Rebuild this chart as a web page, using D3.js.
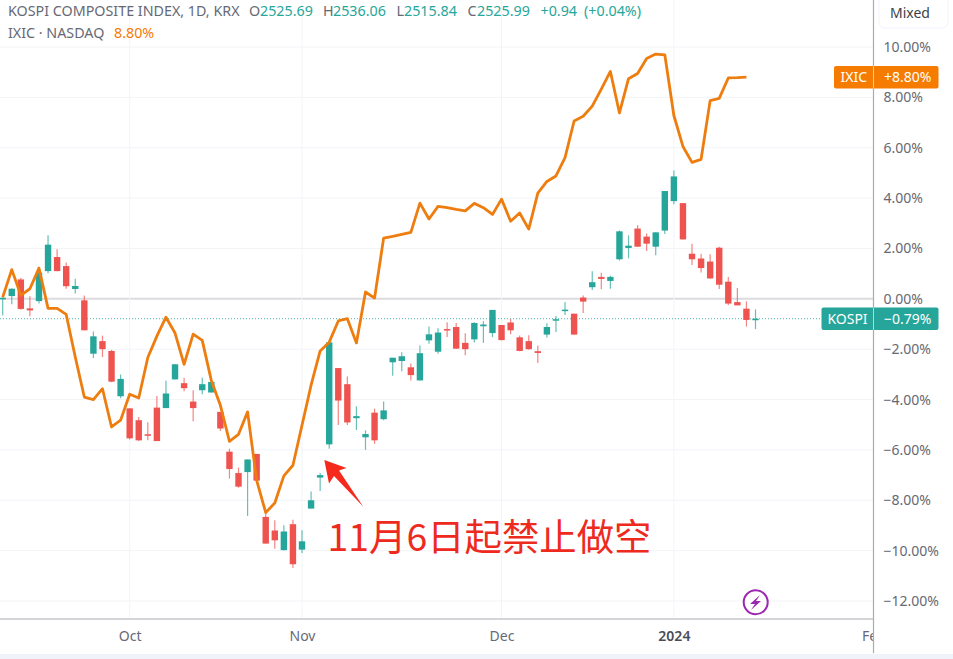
<!DOCTYPE html>
<html lang="en">
<head>
<meta charset="UTF-8">
<title>KOSPI vs IXIC</title>
<script src="https://d3js.org/d3.v7.min.js"></script>
<style>
    body { margin: 0; background: #fff; overflow: hidden; }
    svg { display: block; font-family: "Noto Sans", Arial, sans-serif; }
    .axis text { fill: #666974; font-size: 14px; font-family: "Noto Sans", Arial, sans-serif; }
    .axis path, .axis line { display: none; }
</style>
</head>
<body>
<svg id="chart" width="953" height="659"></svg>
<script>
// KOSPI candles, % change from the comparison start
const opens = [-0.02,0.11,0.77,-0.38,-0.09,1.10,1.66,1.30,0.39,-0.06,-2.18,-1.68,-2.07,-3.87,-4.35,-4.82,-5.38,-4.32,-4.34,-3.20,-3.35,-4.08,-3.63,-3.72,-4.49,-6.07,-6.92,-6.88,-6.16,-8.66,-9.20,-9.98,-8.95,-9.96,-8.33,-7.10,-5.78,-2.75,-3.39,-4.74,-5.50,-4.52,-4.78,-2.52,-2.47,-2.72,-3.24,-1.65,-2.10,-1.20,-1.12,-1.75,-1.61,-1.09,-1.36,-1.04,-0.94,-1.53,-1.68,-2.08,-1.42,-0.85,-0.47,-0.59,0.05,0.46,0.87,0.71,1.57,2.02,2.79,2.47,2.07,2.71,3.88,3.80,1.79,1.60,1.48,2.03,0.68,-0.13,-0.39,-0.81];
const highs = [0.06,0.42,0.84,0.10,1.22,2.52,1.97,1.44,0.80,0.13,-1.30,-1.46,-2.03,-3.01,-4.35,-4.69,-4.90,-3.86,-3.25,-2.60,-3.13,-3.63,-3.13,-3.30,-4.49,-5.95,-6.70,-6.38,-6.16,-8.50,-8.79,-8.99,-8.77,-9.19,-7.65,-6.92,-1.73,-2.75,-3.08,-4.27,-5.22,-4.36,-4.08,-2.34,-2.12,-2.57,-1.85,-1.10,-1.17,-0.93,-0.96,-1.37,-0.93,-0.89,-0.44,-1.04,-0.80,-1.46,-1.45,-1.85,-0.97,-0.68,-0.13,-0.59,0.13,1.09,1.04,0.92,2.71,2.52,2.93,2.59,2.64,4.28,5.10,3.80,2.19,1.79,1.77,2.07,0.87,0.43,-0.10,-0.42];
const lows = [-0.66,-0.22,-0.43,-0.69,-0.19,1.02,1.09,0.40,0.21,-1.25,-2.35,-2.31,-3.31,-3.95,-5.59,-5.65,-5.62,-5.65,-4.34,-3.20,-3.67,-4.86,-3.79,-3.72,-5.25,-7.14,-7.50,-8.62,-7.22,-9.72,-9.93,-9.98,-10.69,-10.09,-8.33,-7.63,-5.95,-5.01,-5.01,-5.21,-6.00,-5.76,-4.82,-3.06,-2.88,-3.24,-3.24,-1.78,-2.18,-1.52,-1.98,-2.24,-1.73,-1.75,-1.52,-1.65,-1.41,-2.08,-2.02,-2.55,-1.54,-1.32,-0.64,-1.42,-0.56,0.35,0.38,0.40,1.52,1.61,2.07,1.90,1.73,2.57,3.76,2.36,1.34,1.05,0.80,0.39,-0.25,-0.26,-1.10,-1.20];
const closes = [0.04,0.40,-0.40,-0.46,1.04,2.15,1.10,0.50,0.51,-1.25,-1.49,-2.00,-3.29,-3.18,-5.54,-5.62,-5.43,-5.65,-3.76,-2.60,-3.55,-4.34,-3.39,-3.30,-5.15,-6.76,-7.46,-6.38,-7.22,-9.72,-9.59,-9.24,-10.54,-9.63,-8.00,-7.00,-1.73,-4.04,-4.91,-4.66,-5.37,-5.62,-4.43,-2.34,-2.28,-3.03,-2.16,-1.41,-1.34,-1.25,-1.98,-2.00,-0.96,-1.02,-0.44,-1.64,-1.25,-2.07,-2.00,-2.15,-1.12,-0.81,-0.43,-1.42,-0.11,0.66,0.79,0.87,2.68,2.11,2.07,2.19,2.64,4.28,4.86,2.36,1.57,1.22,0.81,0.56,-0.19,-0.26,-0.84,-0.79];

// IXIC comparison line, % change
const ixic = [0.06,1.16,0.14,0.40,1.22,-0.38,-0.38,-0.62,-2.31,-3.90,-4.00,-3.57,-5.09,-4.82,-3.79,-3.94,-2.33,-1.48,-0.73,-1.36,-2.60,-1.40,-1.65,-3.24,-4.23,-5.66,-5.38,-4.49,-7.21,-8.49,-8.11,-7.03,-6.61,-5.02,-3.43,-2.07,-1.72,-0.88,-0.79,-1.75,0.27,0.03,2.41,2.48,2.56,2.64,3.80,3.17,3.67,3.62,3.55,3.49,3.79,3.62,3.35,3.96,3.08,3.41,2.77,4.20,4.66,4.88,5.61,7.06,7.25,7.65,8.33,9.03,7.38,8.74,8.95,9.54,9.72,9.69,7.28,6.05,5.42,5.54,7.87,7.96,8.77,8.78,8.80];

const yTicks = [10,8,6,4,2,0,-2,-4,-6,-8,-10,-12];
const xTickBars = [14,33,55,74,96];
const xTickLabels = ["Oct","Nov","Dec","2024","Feb"];
const lastKospi = -0.79;
const lastIxic = 8.80;

const UP = "#26a69a", DOWN = "#ef5350", ORANGE = "#f57c00", GREY = "#666974";
const plotRight = 873.5, plotBottom = 619;

const x = d3.scaleLinear().domain([0, 83]).range([2.7, 755.5]);
const y = d3.scaleLinear().domain([-12, 10]).range([601, 47]);

const svg = d3.select("#chart");
svg.append("defs").append("clipPath").attr("id", "plot")
    .append("rect").attr("width", plotRight).attr("height", plotBottom);
svg.append("defs").append("clipPath").attr("id", "xlabels")
    .append("rect").attr("width", plotRight).attr("height", 34);

const plot = svg.append("g").attr("clip-path", "url(#plot)");

// grid
plot.append("g").selectAll("line").data(yTicks).join("line")
    .attr("x1", 0).attr("x2", plotRight)
    .attr("y1", d => y(d)).attr("y2", d => y(d))
    .attr("stroke", d => d === 0 ? "#dcdce0" : "#f2f4f8")
    .attr("stroke-width", d => d === 0 ? 2 : 1);
plot.append("g").selectAll("line").data(xTickBars).join("line")
    .attr("x1", d => x(d)).attr("x2", d => x(d))
    .attr("y1", 0).attr("y2", plotBottom)
    .attr("stroke", "#f2f4f8");

// last price line
plot.append("line")
    .attr("x1", 0).attr("x2", plotRight)
    .attr("y1", y(lastKospi)).attr("y2", y(lastKospi))
    .attr("stroke", UP).attr("stroke-dasharray", "1,2").attr("opacity", 0.8);

// candles
const candles = plot.append("g").selectAll("g").data(opens.map((o, i) => i)).join("g");
const colour = i => closes[i] >= opens[i] ? UP : DOWN;
candles.append("line")
    .attr("x1", i => x(i)).attr("x2", i => x(i))
    .attr("y1", i => y(highs[i])).attr("y2", i => y(lows[i]))
    .attr("stroke", colour).attr("stroke-width", 1.2).attr("opacity", 0.7);
candles.append("rect")
    .attr("x", i => x(i) - 3.2).attr("width", 6.4)
    .attr("y", i => y(Math.max(opens[i], closes[i])))
    .attr("height", i => Math.max(1.5, Math.abs(y(opens[i]) - y(closes[i]))))
    .attr("fill", colour);

// comparison line
plot.append("path")
    .attr("d", d3.line().x((d, i) => x(i)).y(d => y(d))(ixic))
    .attr("fill", "none").attr("stroke", "#ee7d0f").attr("stroke-width", 2.8)
    .attr("stroke-linejoin", "round");

// axes
svg.append("g").attr("class", "axis").attr("transform", `translate(${plotRight},0)`)
    .call(d3.axisRight(y).tickValues(yTicks).tickSize(0).tickPadding(10)
        .tickFormat(d => (d < 0 ? "\u2212" : "") + Math.abs(d).toFixed(2) + "%"));
const xAxis = svg.append("g").attr("class", "axis").attr("clip-path", "url(#xlabels)")
    .attr("transform", `translate(0,${plotBottom})`)
    .call(d3.axisBottom(x).tickValues(xTickBars).tickSize(0).tickPadding(12)
        .tickFormat((d, i) => xTickLabels[i]));
xAxis.selectAll("text").filter(d => d === 74)
    .style("font-weight", 600).style("fill", "#4a4d57");

svg.append("line").attr("x1", 0).attr("x2", plotRight).attr("y1", plotBottom).attr("y2", plotBottom)
    .attr("stroke", "#a9abb2").attr("stroke-width", 1.2);
svg.append("line").attr("x1", plotRight).attr("x2", plotRight).attr("y1", 0).attr("y2", 653)
    .attr("stroke", "#a9abb2").attr("stroke-width", 1.2);
svg.append("rect").attr("y", 654).attr("width", 953).attr("height", 5).attr("fill", "#f0f3fa");

// scale mode button
svg.append("rect").attr("x", 879).attr("y", -6).attr("width", 69).attr("height", 34).attr("rx", 6)
    .attr("fill", "#fff").attr("stroke", "#f0f3fa");
svg.append("text").attr("x", 910).attr("y", 17.5).attr("text-anchor", "middle")
    .attr("font-size", 14).attr("fill", "#3c3f48").text("Mixed");

// price labels on the axis
function priceLabel(value, name, left, fill) {
    const cy = y(value);
    svg.append("rect").attr("x", left).attr("y", cy - 11.3).attr("width", 938.5 - left).attr("height", 22.6)
        .attr("rx", 2).attr("fill", fill);
    svg.append("line").attr("x1", plotRight).attr("x2", plotRight).attr("y1", cy - 11.3).attr("y2", cy + 11.3)
        .attr("stroke", "#fff").attr("stroke-opacity", 0.6);
    svg.append("text").attr("x", (left + plotRight) / 2).attr("y", cy + 4.8).attr("text-anchor", "middle")
        .attr("font-size", 14).attr("fill", "#fff").text(name);
    const sign = value < 0 ? "\u2212" : "+";
    svg.append("text").attr("x", 884).attr("y", cy + 4.8)
        .attr("font-size", 14).attr("fill", "#fff").text(sign + Math.abs(value).toFixed(2) + "%");
}
priceLabel(lastIxic, "IXIC", 834, ORANGE);
priceLabel(lastKospi, "KOSPI", 821.5, UP);

// legend
const legendRows = [
    { x: 8, y: 16, t: "KOSPI COMPOSITE INDEX, 1D, KRX", c: GREY },
    { x: 249, y: 16, t: "O", c: GREY }, { x: 260, y: 16, t: "2525.69", c: UP },
    { x: 323, y: 16, t: "H", c: GREY }, { x: 333, y: 16, t: "2536.06", c: UP },
    { x: 396.5, y: 16, t: "L", c: GREY }, { x: 404, y: 16, t: "2515.84", c: UP },
    { x: 467.5, y: 16, t: "C", c: GREY }, { x: 477, y: 16, t: "2525.99", c: UP },
    { x: 540.5, y: 16, t: "+0.94", c: UP }, { x: 584, y: 16, t: "(+0.04%)", c: UP },
    { x: 8, y: 38, t: "IXIC \u00b7 NASDAQ", c: GREY },
    { x: 114, y: 38, t: "8.80%", c: ORANGE }
];
svg.append("g").selectAll("text").data(legendRows).join("text")
    .attr("x", d => d.x).attr("y", d => d.y).attr("font-size", 14.3)
    .attr("fill", d => d.c).text(d => d.t);

// annotation
svg.append("path")
    .attr("d", "M324.3,460L346.5,468L339,470.5L363.3,506.7L334,476L329,483.5Z")
    .attr("fill", "#f5291c");
svg.append("text").attr("x", 327.5).attr("y", 551)
    .attr("font-family", '"Noto Sans CJK SC", sans-serif').attr("font-size", 37.4)
    .attr("fill", "#ee2a1e").text("11\u67086\u65e5\u8d77\u7981\u6b62\u505a\u7a7a");

// replay/lightning badge
svg.append("circle").attr("cx", 755.7).attr("cy", 602.3).attr("r", 12)
    .attr("fill", "#fff").attr("stroke", "#9c27b0").attr("stroke-width", 2);
svg.append("path").attr("d", "M760,595L750,604L755,604L751,610L761,601L756,601Z").attr("fill", "#9c27b0");
</script>
</body>
</html>
